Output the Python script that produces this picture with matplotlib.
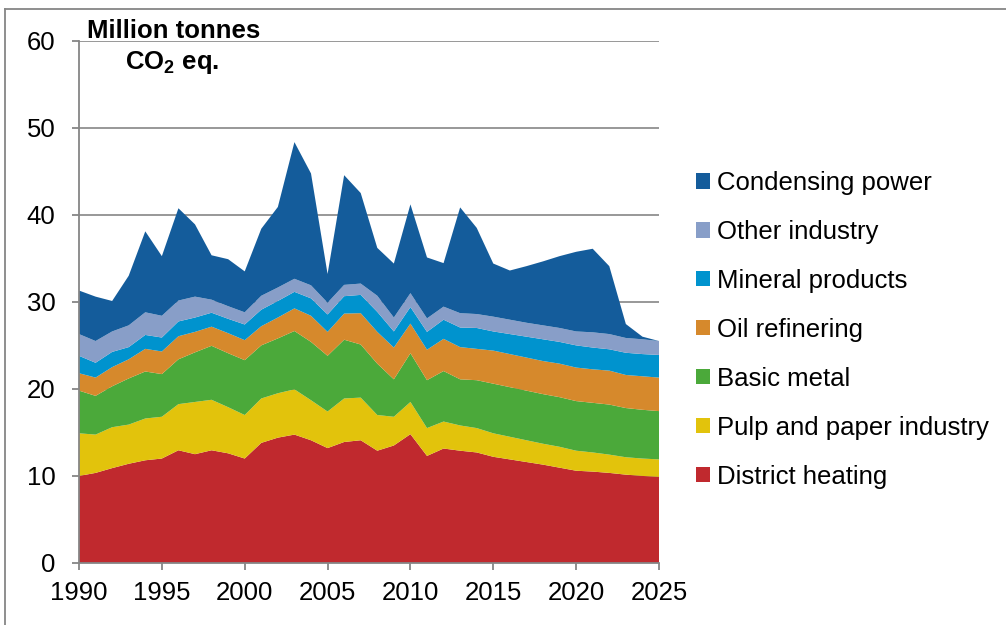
import matplotlib
matplotlib.use("Agg")
import matplotlib.pyplot as plt
from matplotlib.lines import Line2D
from matplotlib.patches import Patch
import numpy as np

# --- Data (million tonnes CO2 eq.) ---
years = np.arange(1990, 2026)

district_heating = [10.0, 10.35, 10.9, 11.4, 11.8, 12.0, 12.95, 12.5, 12.95, 12.6,
                    12.0, 13.8, 14.4, 14.75, 14.1, 13.2, 13.9, 14.1, 12.9, 13.5,
                    14.8, 12.3, 13.15, 12.9, 12.7, 12.2, 11.9, 11.6, 11.3, 10.95,
                    10.6, 10.5, 10.35, 10.15, 10.0, 9.9]
pulp_paper = [4.9, 4.4, 4.7, 4.5, 4.8, 4.8, 5.3, 6.0, 5.8, 5.3,
              5.0, 5.1, 5.1, 5.2, 4.6, 4.2, 5.0, 4.9, 4.1, 3.3,
              3.7, 3.2, 3.1, 2.9, 2.8, 2.7, 2.6, 2.5, 2.4, 2.4,
              2.3, 2.2, 2.1, 2.0, 2.0, 2.0]
basic_metal = [4.9, 4.45, 4.7, 5.3, 5.4, 4.9, 5.15, 5.7, 6.2, 6.2,
               6.3, 6.1, 6.3, 6.7, 6.7, 6.4, 6.75, 6.1, 5.9, 4.3,
               5.6, 5.5, 5.8, 5.3, 5.5, 5.7, 5.7, 5.7, 5.7, 5.7,
               5.7, 5.7, 5.75, 5.65, 5.6, 5.55]
oil_refinering = [2.0, 2.1, 2.2, 2.2, 2.6, 2.6, 2.65, 2.35, 2.2, 2.3,
                  2.3, 2.2, 2.4, 2.6, 3.0, 2.75, 3.0, 3.6, 3.65, 3.65,
                  3.4, 3.5, 3.7, 3.7, 3.6, 3.8, 3.8, 3.8, 3.8, 3.85,
                  3.85, 3.85, 3.9, 3.8, 3.85, 3.85]
mineral_products = [2.0, 1.7, 1.75, 1.4, 1.6, 1.6, 1.7, 1.65, 1.6, 1.65,
                    1.8, 1.9, 1.9, 1.9, 2.0, 2.0, 2.0, 2.1, 2.3, 1.85,
                    1.9, 2.05, 2.2, 2.25, 2.4, 2.2, 2.3, 2.4, 2.5, 2.5,
                    2.55, 2.5, 2.45, 2.55, 2.55, 2.6]
other_industry = [2.5, 2.5, 2.35, 2.5, 2.6, 2.5, 2.4, 2.4, 1.5, 1.45,
                  1.4, 1.6, 1.55, 1.5, 1.5, 1.35, 1.3, 1.3, 1.85, 1.6,
                  1.6, 1.55, 1.5, 1.65, 1.6, 1.7, 1.65, 1.6, 1.6, 1.6,
                  1.6, 1.75, 1.75, 1.7, 1.7, 1.6]
condensing_power = [5.0, 5.1, 3.5, 5.7, 9.3, 6.85, 10.6, 8.3, 5.1, 5.4,
                    4.7, 7.7, 9.25, 15.7, 12.85, 3.3, 12.6, 10.4, 5.5, 6.2,
                    10.2, 7.0, 5.0, 12.15, 9.9, 6.1, 5.65, 6.5, 7.35, 8.25,
                    9.15, 9.6, 7.8, 1.6, 0.3, 0.0]

labels = ["District heating", "Pulp and paper industry", "Basic metal",
          "Oil refinering", "Mineral products", "Other industry",
          "Condensing power"]
series = [district_heating, pulp_paper, basic_metal, oil_refinering,
          mineral_products, other_industry, condensing_power]
colors = ["#C0292E", "#E2C30C", "#4BA93A", "#D6892C", "#0093CE",
          "#889EC8", "#145C9B"]

# --- Style ---
plt.rcParams["font.family"] = ["Liberation Sans", "DejaVu Sans"]
plt.rcParams["mathtext.fontset"] = "custom"
plt.rcParams["mathtext.rm"] = "Liberation Sans"
plt.rcParams["mathtext.bf"] = "Liberation Sans:bold"
grey = "#868686"
fs = 18.5

fig = plt.figure(figsize=(10.06, 6.25), dpi=100)
ax = fig.add_axes([79 / 1006, 1 - 563 / 625, 580 / 1006, (563 - 40.7) / 625])

ax.stackplot(years, *series, colors=colors, linewidth=0)

ax.set_xlim(1990, 2025)
ax.set_ylim(0, 60)
ax.set_xticks(np.arange(1990, 2026, 5))
ax.set_yticks(np.arange(0, 61, 10))
ax.yaxis.grid(True, color=grey, linewidth=1.2)
ax.set_axisbelow(True)

for side in ("top", "right"):
    ax.spines[side].set_visible(False)
for side in ("left", "bottom"):
    ax.spines[side].set_color(grey)
    ax.spines[side].set_linewidth(1.3)
ax.tick_params(axis="both", colors=grey, width=1.3, length=5, labelsize=fs,
               labelcolor="black")
ax.tick_params(axis="x", pad=8)
ax.tick_params(axis="y", pad=12)

# unit label in the top left corner
fig.text(174 / 1006, 1 - 31 / 625, "Million tonnes", ha="center", va="center",
         fontsize=fs, fontweight="bold")
fig.text(172 / 1006, 1 - 62 / 625, r"CO$_\mathbf{2}$ eq.", ha="center",
         va="center", fontsize=fs, fontweight="bold")

# legend, top item = top layer
handles = [Patch(facecolor=c, edgecolor="none") for c in colors][::-1]
fig.legend(handles, labels[::-1], loc="upper left",
           bbox_to_anchor=(696 / 1006, 1 - 171 / 625), frameon=False,
           fontsize=fs, handlelength=0.55, handleheight=0.55,
           handletextpad=0.25, labelspacing=0.97, borderpad=0,
           borderaxespad=0)

# chart frame (cut off at right and bottom)
fig.add_artist(Line2D([5 / 1006, 1], [1 - 8.7 / 625] * 2, color=grey, lw=1.3))
fig.add_artist(Line2D([5 / 1006] * 2, [0, 1 - 8.7 / 625], color=grey, lw=1.3))

fig.savefig("out.png", dpi=100)
